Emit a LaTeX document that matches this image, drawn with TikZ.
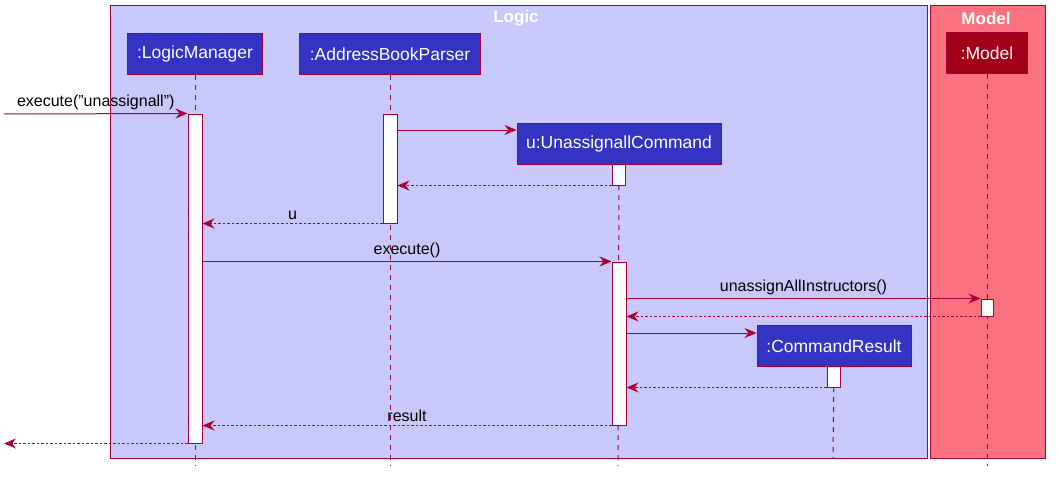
\documentclass[tikz,border=0pt]{standalone}
\usepackage{fontspec}
\setmainfont{Liberation Sans}
\usetikzlibrary{arrows.meta}
\definecolor{crim}{RGB}{168,0,54}
\definecolor{logicbg}{RGB}{200,200,250}
\definecolor{modelbg}{RGB}{250,114,128}
\definecolor{partblue}{RGB}{51,51,196}
\definecolor{partred}{RGB}{160,0,24}

\begin{document}
\begin{tikzpicture}[x=1pt,y=-1pt]
    \tikzstyle{Box}=[draw=crim, line width=1pt]
    \tikzstyle{Part}=[draw=crim, line width=1pt, fill=partblue, text=white,
        font=\fontsize{17.5}{20}\selectfont, minimum height=41pt, inner sep=0pt]
    \tikzstyle{Act}=[draw=crim, fill=white, line width=1pt, minimum width=14pt, inner sep=0pt]
    \tikzstyle{Life}=[draw=crim, line width=1pt, dash pattern=on 5pt off 5pt]
    \tikzstyle{Call}=[draw=crim, line width=1pt, -{Stealth[length=12pt,width=10pt,inset=4pt]}]
    \tikzstyle{Ret}=[Call, dash pattern=on 2.5pt off 2pt]
    \tikzstyle{Lbl}=[font=\fontsize{16}{19}\selectfont, text=black, inner sep=3pt]
    \tikzstyle{Title}=[font=\bfseries\fontsize{17}{20}\selectfont, text=white]
    \useasboundingbox (0,0) rectangle (1057,479);
    % groups
    \draw[Box, fill=logicbg] (110,5) rectangle (927,458);
    \draw[Box, fill=modelbg] (930,5) rectangle (1045,458);
    \node[Title] (logicT) at (516,18) {Logic};
    \node[Title] (modelT) at (986,18) {Model};
    % participants
    \node[Part, minimum width=135pt] (lm) at (195,54) {:LogicManager};
    \node[Part, minimum width=181pt] (abp) at (390,54) {:AddressBookParser};
    \node[Part, minimum width=204pt] (uc) at (619,144) {u:UnassignallCommand};
    \node[Part, fill=partred, minimum width=81pt] (mdl) at (987,53) {:Model};
    \node[Part, minimum width=154pt] (cr) at (834,346) {:CommandResult};
    % lifelines
    \coordinate (lmEnd) at (195,466);
    \coordinate (abpEnd) at (390,466);
    \coordinate (ucEnd) at (618,466);
    \coordinate (mdlEnd) at (987,466);
    \coordinate (crEnd) at (833,458);
    \draw[Life] (lm.south) -- (lmEnd);
    \draw[Life] (abp.south) -- (abpEnd);
    \draw[Life] (uc.south) -- (ucEnd);
    \draw[Life] (mdl.south) -- (mdlEnd);
    \draw[Life] (cr.south) -- (crEnd);
    % activations
    \node[Act, minimum height=329pt] (lmA) at (195,278.5) {};
    \node[Act, minimum height=109pt] (abpA) at (390,168.5) {};
    \node[Act, minimum width=13pt, minimum height=21pt] (ucA1) at (618.5,174.5) {};
    \node[Act, minimum height=163pt] (ucA2) at (619,343.5) {};
    \node[Act, minimum width=12pt, minimum height=17pt] (mdlA) at (987,307.5) {};
    \node[Act, minimum width=13pt, minimum height=21pt] (crA) at (833.5,376.5) {};
    % messages
    \coordinate (caller) at (4,114);
    \coordinate (ucIn) at ([yshift=-7pt]uc.north west);
    \coordinate (crIn) at ([yshift=-8pt]cr.north west);
    \draw[Call] (caller) -- (lmA.north west) node[Lbl, midway, above] {execute(\symbol{34}unassignall\symbol{34})};
    \draw[Call] (abpA.east |- ucIn) -- (ucIn);
    \draw[Ret] (ucA1.south west) -- (abpA.east |- ucA1.south);
    \draw[Ret] (abpA.south west) -- (lmA.east |- abpA.south) node[Lbl, midway, above] {u};
    \draw[Call] (lmA.east |- ucA2.north) -- (ucA2.north west) node[Lbl, midway, above] {execute()};
    \draw[Call] (ucA2.east |- mdlA.north) -- (mdlA.north west) node[Lbl, midway, above] {unassignAllInstructors()};
    \draw[Ret] (mdlA.south west) -- (ucA2.east |- mdlA.south);
    \draw[Call] (ucA2.east |- crIn) -- (crIn);
    \draw[Ret] (crA.south west) -- (ucA2.east |- crA.south);
    \draw[Ret] (ucA2.south west) -- (lmA.east |- ucA2.south) node[Lbl, midway, above] {result};
    \draw[Ret] (lmA.south west) -- (caller |- lmA.south);
\end{tikzpicture}
\end{document}
